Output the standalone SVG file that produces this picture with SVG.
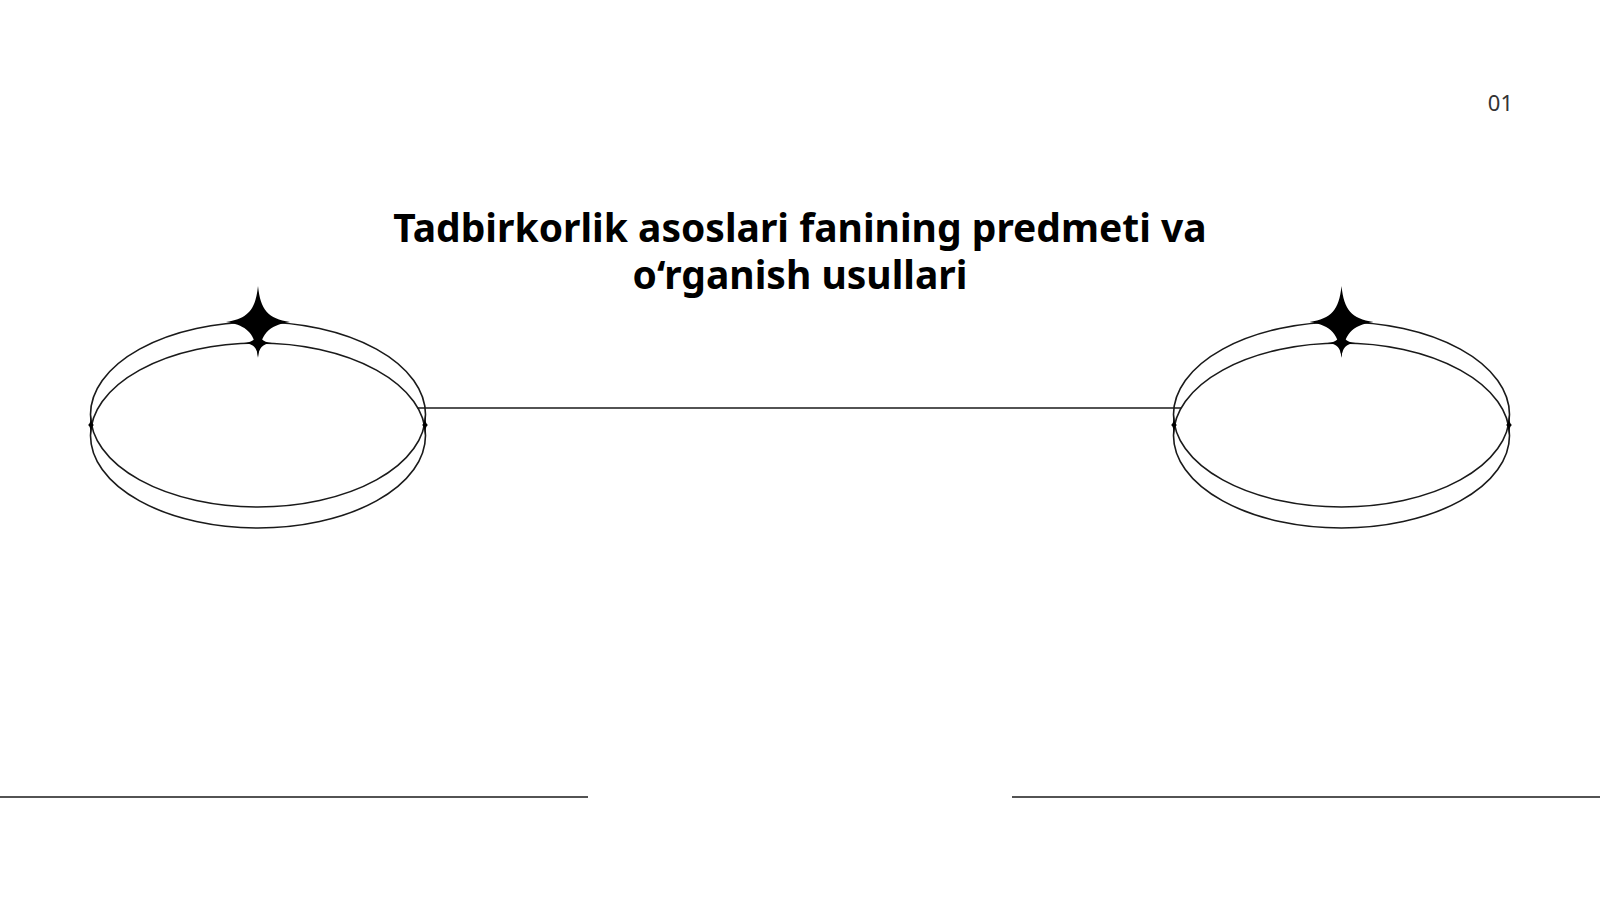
<svg xmlns="http://www.w3.org/2000/svg" width="1600" height="900" viewBox="0 0 1600 900">
  <style>
    .ring { fill: none; stroke: #1a1a1a; stroke-width: 1.6; }
    .line { fill: none; stroke: #1a1a1a; stroke-width: 1.6; }
    .star { fill: #000; }
    .title { font-family: "Noto Sans", "Open Sans", "Liberation Sans", sans-serif; font-weight: 700; font-size: 39px; fill: #000; text-anchor: middle; }
    .num { font-family: "Noto Sans", "Open Sans", "Liberation Sans", sans-serif; font-size: 22px; fill: #333; text-anchor: end; }
  </style>
  <defs>
    <path id="bigstar" d="M0,-36 C2.5,-12 10,-3.5 32,0 C10,3.5 2.5,12 0,36 C-2.5,12 -10,3.5 -32,0 C-10,-3.5 -2.5,-12 0,-36 Z"/>
    <path id="smallstar" d="M0,-14 C1,-5 4,-1 14,0 C4,1 1,5 0,14 C-1,5 -4,1 -14,0 C-4,-1 -1,-5 0,-14 Z"/>
    <path id="sidestar" d="M0,-10 C0.5,-4 1,-1 3,0 C1,1 0.5,4 0,10 C-0.5,4 -1,1 -3,0 C-1,-1 -0.5,-4 0,-10 Z"/>
  </defs>
  <rect width="1600" height="900" fill="#fff"/>

  <text class="title" x="800" y="242">Tadbirkorlik asoslari fanining predmeti va<tspan x="800" dy="47">o‘rganish usullari</tspan></text>

  <text class="num" x="1513" y="111">01</text>

  <g id="connectors">
    <line class="line" x1="417.5" y1="408" x2="1181" y2="408"/>
  </g>

  <g id="left-node">
    <ellipse class="ring" cx="258" cy="414.5" rx="167.5" ry="92.5"/>
    <ellipse class="ring" cx="258" cy="435.5" rx="167.5" ry="92.5"/>
    <use href="#smallstar" class="star" x="258" y="343"/>
    <use href="#bigstar" class="star" x="258" y="322"/>
    <use href="#sidestar" class="star" x="91" y="425"/>
    <use href="#sidestar" class="star" x="425" y="425"/>
  </g>

  <g id="right-node">
    <ellipse class="ring" cx="1341.5" cy="414.5" rx="168" ry="92.5"/>
    <ellipse class="ring" cx="1341.5" cy="435.5" rx="168" ry="92.5"/>
    <use href="#smallstar" class="star" x="1341.5" y="343"/>
    <use href="#bigstar" class="star" x="1341.5" y="322"/>
    <use href="#sidestar" class="star" x="1174" y="425"/>
    <use href="#sidestar" class="star" x="1509" y="425"/>
  </g>

  <g id="bottom-lines">
    <line class="line" x1="0" y1="797" x2="588" y2="797"/>
    <line class="line" x1="1012" y1="797" x2="1600" y2="797"/>
  </g>
</svg>
